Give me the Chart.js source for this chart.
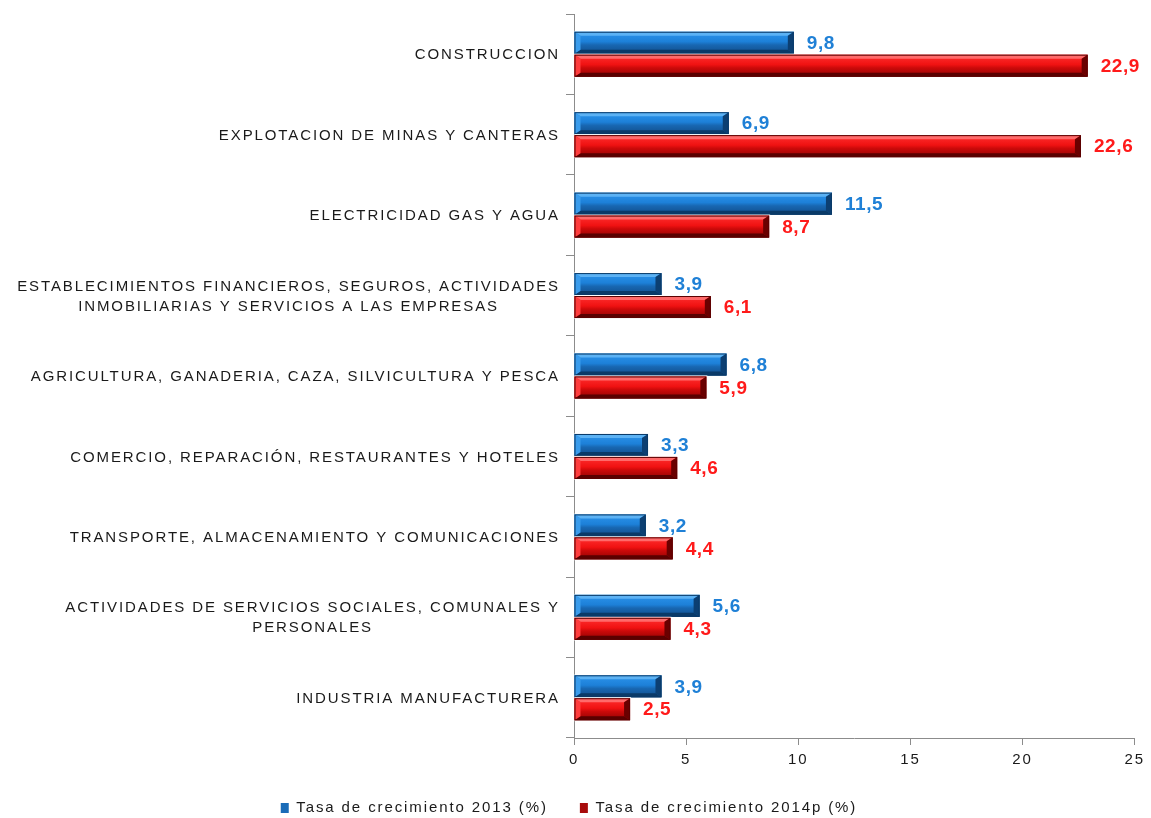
<!DOCTYPE html>
<html><head><meta charset="utf-8">
<script src="https://cdn.jsdelivr.net/npm/chart.js@4"></script>
<style>html,body{margin:0;padding:0;background:#fff}#wrap{width:1151px;height:818px}</style>
</head><body><div id="wrap"><canvas id="c" width="1151" height="818"></canvas></div>
<script>
const categories = [
  ['CONSTRUCCION'],
  ['EXPLOTACION DE MINAS Y CANTERAS'],
  ['ELECTRICIDAD GAS Y AGUA'],
  ['ESTABLECIMIENTOS FINANCIEROS, SEGUROS, ACTIVIDADES', 'INMOBILIARIAS Y SERVICIOS A LAS EMPRESAS'],
  ['AGRICULTURA, GANADERIA, CAZA, SILVICULTURA Y PESCA'],
  ['COMERCIO, REPARACIÓN, RESTAURANTES Y HOTELES'],
  ['TRANSPORTE, ALMACENAMIENTO Y COMUNICACIONES'],
  ['ACTIVIDADES DE SERVICIOS SOCIALES, COMUNALES Y', 'PERSONALES'],
  ['INDUSTRIA MANUFACTURERA']
];
const series2013 = [9.8, 6.9, 11.5, 3.9, 6.8, 3.3, 3.2, 5.6, 3.9];
const series2014 = [22.9, 22.6, 8.7, 6.1, 5.9, 4.6, 4.4, 4.3, 2.5];
const seriesNames = ['Tasa de crecimiento 2013 (%)', 'Tasa de crecimiento 2014p (%)'];
const xTicks = [0, 5, 10, 15, 20, 25];

const SPACING = '1.9px';
const FONT = '"Liberation Sans", Arial, sans-serif';
const styles = [
  { face: [[0, '#2c94ec'], [0.45, '#1d80d8'], [0.6, '#1867b2'], [1, '#114d8a']], top: '#5cb2f4', bottom: '#0a3a68', left: '#3a9cec', right: '#0c3f72', label: '#1f80d6', legend: '#1a6cb8' },
  { face: [[0, '#ff3030'], [0.45, '#f01212'], [0.6, '#cc0a0a'], [1, '#920202']], top: '#ff6a6a', bottom: '#5a0000', left: '#ff3d3d', right: '#6a0000', label: '#ff1a1a', legend: '#a80c0c' }
];

const spacingPlugin = {
  id: 'spacing',
  beforeUpdate(c) { c.ctx.letterSpacing = SPACING; },
  beforeDraw(c) { c.ctx.letterSpacing = SPACING; }
};

function poly(ctx, pts, color) {
  ctx.beginPath();
  ctx.moveTo(pts[0][0], pts[0][1]);
  for (let i = 1; i < pts.length; i++) ctx.lineTo(pts[i][0], pts[i][1]);
  ctx.closePath();
  ctx.fillStyle = color;
  ctx.fill();
}

const barStylePlugin = {
  id: 'barStyle',
  afterDatasetsDraw(chart) {
    const ctx = chart.ctx;
    chart.data.datasets.forEach((ds, di) => {
      const meta = chart.getDatasetMeta(di);
      const st = styles[di];
      meta.data.forEach((bar, i) => {
        const p = bar.getProps(['x', 'y', 'base', 'height'], true);
        const l = Math.min(p.x, p.base), r = Math.max(p.x, p.base);
        const t = p.y - p.height / 2, h = p.height, b = t + h;
        const bv = Math.min(6, (r - l) / 3);
        ctx.save();
        ctx.fillStyle = '#ffffff';
        ctx.fillRect(l, t - 1, r - l + 1, h + 2);
        const g = ctx.createLinearGradient(0, t, 0, b);
        st.face.forEach(([o, c]) => g.addColorStop(o, c));
        ctx.fillStyle = g;
        ctx.fillRect(l, t, r - l, h);
        poly(ctx, [[l, t], [r, t], [r - bv, t + 4], [l + bv, t + 4]], st.top);
        poly(ctx, [[l, b], [r, b], [r - bv, b - 4], [l + bv, b - 4]], st.bottom);
        poly(ctx, [[l, t], [l + bv, t + 4], [l + bv, b - 4], [l, b]], st.left);
        poly(ctx, [[r, t], [r - bv, t + 4], [r - bv, b - 4], [r, b]], st.right);
        ctx.strokeStyle = st.bottom;
        ctx.lineWidth = 1;
        ctx.strokeRect(l + 0.5, t + 0.5, r - l - 1, h - 1);
        ctx.restore();
        // value label
        ctx.save();
        ctx.letterSpacing = '0.6px';
        ctx.font = 'bold 19px ' + FONT;
        ctx.fillStyle = st.label;
        ctx.textAlign = 'left';
        ctx.textBaseline = 'middle';
        const v = ds.data[i];
        ctx.fillText(v.toFixed(1).replace('.', ','), r + 13, p.y + 1);
        ctx.restore();
      });
    });
  }
};

const catLabelPlugin = {
  id: 'catLabels',
  afterDraw(chart) {
    const ctx = chart.ctx;
    const ys = chart.scales.y;
    ctx.save();
    ctx.letterSpacing = SPACING;
    ctx.font = '15px ' + FONT;
    ctx.fillStyle = '#1a1a1a';
    ctx.textAlign = 'center';
    ctx.textBaseline = 'middle';
    const rightEdge = ys.right - 14;
    categories.forEach((lines, i) => {
      const y = ys.getPixelForValue(i);
      const maxW = Math.max(...lines.map(s => ctx.measureText(s).width));
      const cx = rightEdge - maxW / 2;
      lines.forEach((s, j) => {
        ctx.fillText(s, cx, y + 1 + (j - (lines.length - 1) / 2) * 20);
      });
    });
    ctx.restore();
  }
};

new Chart(document.getElementById('c'), {
  type: 'bar',
  data: {
    labels: categories,
    datasets: [
      { label: seriesNames[0], data: series2013, backgroundColor: styles[0].legend, borderWidth: 0, barPercentage: 0.96, categoryPercentage: 0.57 },
      { label: seriesNames[1], data: series2014, backgroundColor: styles[1].legend, borderWidth: 0, barPercentage: 0.96, categoryPercentage: 0.57 }
    ]
  },
  options: {
    indexAxis: 'y',
    responsive: false,
    animation: false,
    layout: { padding: { top: 14, right: 13, bottom: -7.5, left: 0 } },
    scales: {
      x: {
        min: 0, max: 25,
        afterBuildTicks: s => { s.ticks = xTicks.map(v => ({ value: v })); },
        afterFit: s => { s.height = 30.5; },
        ticks: { font: { size: 15, family: FONT }, color: '#1a1a1a', padding: 6, maxRotation: 0 },
        grid: { drawOnChartArea: false, tickLength: 7, color: '#8c8c8c' },
        border: { color: '#8c8c8c' }
      },
      y: {
        afterFit: s => { s.width = 574; },
        ticks: { display: false },
        grid: { offset: true, drawOnChartArea: false, tickLength: 8, color: '#8c8c8c' },
        border: { color: '#8c8c8c' }
      }
    },
    plugins: {
      legend: {
        position: 'bottom',
        labels: {
          boxWidth: 8, boxHeight: 10, padding: 32,
          color: '#1a1a1a',
          font: { size: 15, family: FONT }
        }
      },
      tooltip: { enabled: false }
    }
  },
  plugins: [spacingPlugin, barStylePlugin, catLabelPlugin]
});
</script>
</body></html>
